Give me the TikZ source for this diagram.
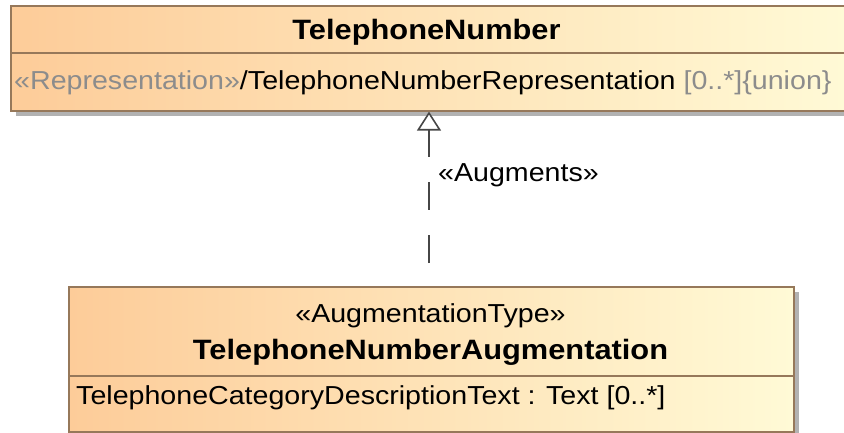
\documentclass[tikz,border=0pt]{standalone}
\usepackage{fontspec}
\setmainfont[FakeStretch=1.1]{Liberation Sans}
\usetikzlibrary{arrows.meta,shadows}
\definecolor{boxleft}{RGB}{253,204,153}
\definecolor{boxright}{RGB}{255,250,214}
\definecolor{boxline}{RGB}{150,120,90}
\definecolor{shadowgray}{RGB}{178,178,178}
\definecolor{greytext}{RGB}{140,140,140}
\definecolor{linkgray}{RGB}{70,70,70}
\newcommand\attrfont{\fontsize{26}{30}\selectfont}
\newcommand\namefont{\fontsize{28}{32}\selectfont\bfseries}
\begin{document}
\begin{tikzpicture}[x=1pt,y=-1pt,line cap=butt,line join=miter,
		umlbox/.style={draw=boxline,line width=1.6pt,left color=boxleft,right color=boxright,
			inner sep=0pt,anchor=north west,
			drop shadow={shadow xshift=5pt,shadow yshift=-5pt,fill=shadowgray,opacity=1}},
		divider/.style={draw=boxline,line width=1.6pt},
		attr/.style={font=\attrfont,inner sep=0pt},
		augments/.style={draw=linkgray,line width=1.8pt,dash pattern=on 28pt off 25pt,dash phase=30pt,
			-{Triangle[length=19pt,width=24pt,fill=white,line width=1.6pt]}}]
	\useasboundingbox (0,0) rectangle (844,433);
	% TelephoneNumber
	\node[umlbox,minimum width=836pt,minimum height=105pt] (telnum) at (10,5) {};
	\draw[divider] (telnum.west |- 0,53) -- (telnum.east |- 0,53);
	\node[font=\namefont,anchor=base,inner sep=0pt] (telnumname) at (426.5,39.5) {TelephoneNumber};
	\node[attr,anchor=base west] (telnumattr) at (14,90)
		{\textcolor{greytext}{«Representation»}/TelephoneNumberRepresentation \textcolor{greytext}{[0..*]\{union\}}};
	% TelephoneNumberAugmentation
	\node[umlbox,minimum width=725pt,minimum height=145pt] (augbox) at (68,286) {};
	\draw[divider] (augbox.west |- 0,376) -- (augbox.east |- 0,376);
	\node[attr,anchor=base] (augstereo) at (430.5,322) {«AugmentationType»};
	\node[font=\namefont,anchor=base,inner sep=0pt] (augname) at (430.5,359) {TelephoneNumberAugmentation};
	\node[attr,anchor=base west] (augattr) at (76,404) {TelephoneCategoryDescriptionText : Text [0..*]};
	% connector
	\coordinate (axis) at (429,0);
	\draw[augments] (augbox.north -| axis) -- (telnum.south -| axis);
	\node[attr,anchor=base west] (auglabel) at (438,182) {«Augments»};
\end{tikzpicture}
\end{document}
